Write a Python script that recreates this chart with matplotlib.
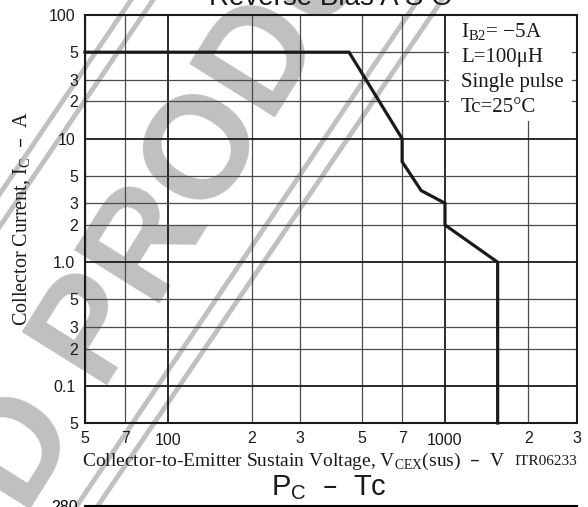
import matplotlib
matplotlib.use('Agg')
import matplotlib.pyplot as plt
from matplotlib.lines import Line2D
from matplotlib.patches import Rectangle
from matplotlib.ticker import FixedLocator, FixedFormatter

SANS = 'Liberation Sans'
SERIF = 'Liberation Serif'

# Reverse bias ASO limit curve
vce = [50, 450, 700, 700, 820, 1000, 1000, 1550, 1550]
ic = [50, 50, 10, 6.5, 3.8, 3.0, 2.0, 1.0, 0.05]

# axis ticks
x_major = [100, 1000]
x_major_labels = ['100', '1000']
x_minor = [50, 70, 200, 300, 500, 700, 2000, 3000]
x_minor_labels = ['5', '7', '2', '3', '5', '7', '2', '3']
y_major = [100, 10, 1, 0.1]
y_major_labels = ['100', '10', '1.0', '0.1']
y_minor = [50, 30, 20, 5, 3, 2, 0.5, 0.3, 0.2, 0.05]
y_minor_labels = ['5', '3', '2', '5', '3', '2', '5', '3', '2', '5']

conditions = ['I$_\\mathregular{B2}$= \u22125A', 'L=100\u03bcH',
              'Single pulse', 'Tc=25\u00b0C']

# watermark (pixel coords, y from top)
W, H = 588, 507
wm_text = 'ED PRODUCT'
wm_start = (-26, 599)
wm_angle = 58
stripes = [((-212, 507), (131, 0)), ((-190, 507), (153, 0)),
           ((76, 507), (418, 0)), ((97, 507), (442, 0))]
wm_grey = '#bfc0c2'

fig = plt.figure(figsize=(W / 100, H / 100), dpi=100)
fig.patch.set_facecolor('white')

for (x0, y0), (x1, y1) in stripes:
    fig.add_artist(Line2D([x0 / W, x1 / W], [1 - y0 / H, 1 - y1 / H],
                          transform=fig.transFigure, color=wm_grey,
                          lw=3.5, zorder=-2))
fig.text(wm_start[0] / W, 1 - wm_start[1] / H, wm_text, rotation=wm_angle,
         rotation_mode='anchor', ha='left', va='baseline', fontsize=105,
         fontweight='bold', family=SANS, color=wm_grey, zorder=-2)

ax = fig.add_axes([85 / W, 1 - 423 / H, 492 / W, 408 / H])
ax.set_facecolor('none')
ax.set_xscale('log')
ax.set_yscale('log')
ax.set_xlim(50, 3000)
ax.set_ylim(0.05, 100)

ax.xaxis.set_major_locator(FixedLocator(x_major))
ax.xaxis.set_major_formatter(FixedFormatter(x_major_labels))
ax.xaxis.set_minor_locator(FixedLocator(x_minor))
ax.xaxis.set_minor_formatter(FixedFormatter(x_minor_labels))
ax.yaxis.set_major_locator(FixedLocator(y_major))
ax.yaxis.set_major_formatter(FixedFormatter(y_major_labels))
ax.yaxis.set_minor_locator(FixedLocator(y_minor))
ax.yaxis.set_minor_formatter(FixedFormatter(y_minor_labels))

ax.tick_params(which='both', length=0, labelsize=11.5, colors='#1a1a1a')
ax.tick_params(axis='x', which='major', pad=7.5)
ax.tick_params(axis='x', which='minor', pad=6)
ax.tick_params(axis='y', which='major', pad=7)
ax.tick_params(axis='y', which='minor', pad=4.8)
for lab in ax.get_xticklabels(which='both') + ax.get_yticklabels(which='both'):
    lab.set_family(SANS)

ax.grid(which='major', color='#1a1a1a', lw=1.3, zorder=1)
ax.grid(which='minor', color='#4a4a4a', lw=0.9, zorder=1)
for sp in ax.spines.values():
    sp.set_linewidth(1.5)
    sp.set_color('#1a1a1a')

ax.plot(vce, ic, color='#1a1a1a', lw=2.3, zorder=3, clip_on=False,
        solid_joinstyle='miter')

# conditions box
ax.add_patch(Rectangle(((449 - 85) / 492, (423 - 121) / 408), 123 / 492,
                       106 / 408, transform=ax.transAxes, facecolor='white',
                       edgecolor='none', zorder=2))
for i, txt in enumerate(conditions):
    ax.text((461 - 85) / 492, (423 - 37 - 25 * i) / 408, txt,
            transform=ax.transAxes, ha='left', va='baseline', fontsize=15,
            family=SERIF, color='#1a1a1a', zorder=4)

ax.set_title('Reverse Bias A S O', fontsize=20, family=SANS, pad=7,
             color='#1a1a1a')

ax.set_xlabel('Collector-to-Emitter Sustain Voltage, '
              'V$_\\mathregular{CEX}$(sus)  \u2013  V',
              fontsize=14, family=SERIF, color='#1a1a1a')
ax.xaxis.set_label_coords(-0.006, (423 - 466) / 408)
ax.xaxis.label.set_ha('left')
ax.xaxis.label.set_va('baseline')
ax.text(1.0, (423 - 465) / 408, 'ITR06233', transform=ax.transAxes,
        ha='right', va='baseline', fontsize=11, family=SERIF,
        color='#1a1a1a')

ax.set_ylabel('Collector Current, I$_\\mathregular{C}$  \u2013  A',
              fontsize=14.5, family=SERIF, color='#1a1a1a')
ax.yaxis.set_label_coords((22 - 85) / 492, 0.5)
ax.yaxis.label.set_va('center')

# next chart, just peeking in at the bottom
fig.text(329 / W, 1 - 495 / H, 'P$_\\mathregular{C}$  \u2013  Tc',
         ha='center', va='baseline', fontsize=21, family=SANS,
         color='#1a1a1a')
ax2 = fig.add_axes([85 / W, -0.5, 492 / W, 0.5 + 1 / H])
ax2.set_facecolor('none')
ax2.set_xlim(0, 160)
ax2.set_ylim(0, 280)
ax2.set_yticks([280])
ax2.set_xticks([])
ax2.tick_params(length=0, labelsize=11.5, pad=5)
for lab in ax2.get_yticklabels():
    lab.set_family(SANS)
ax2.spines['right'].set_visible(False)
ax2.spines['bottom'].set_visible(False)
ax2.spines['top'].set_linewidth(1.5)

fig.savefig('out.png', dpi=100)
